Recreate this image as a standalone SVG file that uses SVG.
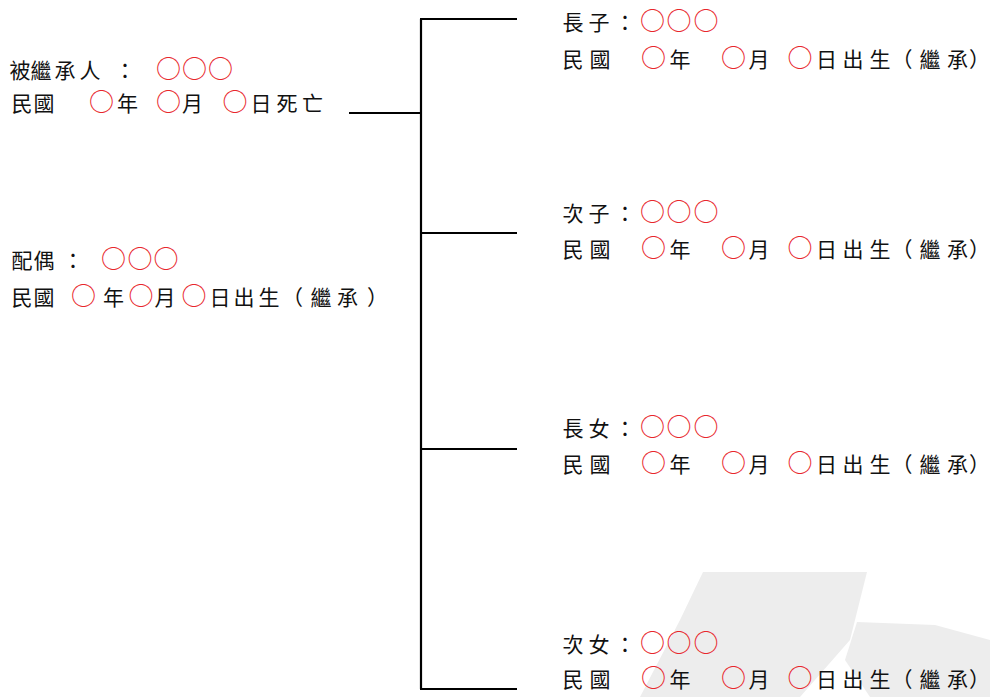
<svg xmlns="http://www.w3.org/2000/svg" width="990" height="697" viewBox="0 0 990 697">
<style>
.t{font-family:"Noto Sans CJK TC","Noto Sans CJK SC",sans-serif;font-size:21px;fill:#111;}
.o{font-size:25px;fill:#e8262b;}
.ln{stroke:#000;stroke-width:2.2;fill:none;}
.wm{fill:#ededed;}
</style>
<rect width="990" height="697" fill="#fff"/>
<g id="watermark">
<polygon class="wm" points="703,572 867,572 850,640 800,697 640,697 680,620"/>
<polygon class="wm" points="857,622 935,625 990,640 990,697 870,697 845,660"/>
</g>
<g id="connectors">
<path class="ln" d="M421,19 V689 M420,19 H517 M349,113 H421 M421,233 H517 M421,449 H517 M420,689 H517"/>
</g>
<g id="decedent">
<text class="t" y="78"><tspan x="9.5 30.5 54.5 79.5 114.5">被繼承人：</tspan><tspan class="o" x="156 182 208">○○○</tspan></text>
<text class="t" y="110.5"><tspan x="11.5 33.5">民國</tspan><tspan class="o" x="89">○</tspan><tspan x="117">年</tspan><tspan class="o" x="156">○</tspan><tspan x="182">月</tspan><tspan class="o" x="222.5">○</tspan><tspan x="250.5 276.5 302">日死亡</tspan></text>
</g>
<g id="spouse">
<text class="t" y="268"><tspan x="11.5 33.5 62.5">配偶：</tspan><tspan class="o" x="101 127.5 153.5">○○○</tspan></text>
<text class="t" y="305"><tspan x="11.5 33.5">民國</tspan><tspan class="o" x="71">○</tspan><tspan x="103">年</tspan><tspan class="o" x="128.5">○</tspan><tspan x="154.5">月</tspan><tspan class="o" x="181.5">○</tspan><tspan x="209.5 233.5 258.5 282 310.5 337 367">日出生（繼承）</tspan></text>
</g>
<g id="son1">
<text class="t" y="30"><tspan x="562.5 588.5 614.5">長子：</tspan><tspan class="o" x="640 666.5 693.5">○○○</tspan></text>
<text class="t" y="66.5"><tspan x="562.5 589.5">民國</tspan><tspan class="o" x="641">○</tspan><tspan x="669.5">年</tspan><tspan class="o" x="721">○</tspan><tspan x="748.5">月</tspan><tspan class="o" x="787.5">○</tspan><tspan x="816 842.5 869.5 891.5 919.5 947 969">日出生（繼承）</tspan></text>
</g>
<g id="son2">
<text class="t" y="220.5"><tspan x="562.5 588.5 614.5">次子：</tspan><tspan class="o" x="640 666.5 693.5">○○○</tspan></text>
<text class="t" y="257"><tspan x="562.5 589.5">民國</tspan><tspan class="o" x="641">○</tspan><tspan x="669.5">年</tspan><tspan class="o" x="721">○</tspan><tspan x="748.5">月</tspan><tspan class="o" x="787.5">○</tspan><tspan x="816 842.5 869.5 891.5 919.5 947 969">日出生（繼承）</tspan></text>
</g>
<g id="daughter1">
<text class="t" y="435.5"><tspan x="562.5 588.5 614.5">長女：</tspan><tspan class="o" x="640 666.5 693.5">○○○</tspan></text>
<text class="t" y="472"><tspan x="562.5 589.5">民國</tspan><tspan class="o" x="641">○</tspan><tspan x="669.5">年</tspan><tspan class="o" x="721">○</tspan><tspan x="748.5">月</tspan><tspan class="o" x="787.5">○</tspan><tspan x="816 842.5 869.5 891.5 919.5 947 969">日出生（繼承）</tspan></text>
</g>
<g id="daughter2">
<text class="t" y="651.5"><tspan x="562.5 588.5 614.5">次女：</tspan><tspan class="o" x="640 666.5 693.5">○○○</tspan></text>
<text class="t" y="686.5"><tspan x="562.5 589.5">民國</tspan><tspan class="o" x="641">○</tspan><tspan x="669.5">年</tspan><tspan class="o" x="721">○</tspan><tspan x="748.5">月</tspan><tspan class="o" x="787.5">○</tspan><tspan x="816 842.5 869.5 891.5 919.5 947 969">日出生（繼承）</tspan></text>
</g>
</svg>
